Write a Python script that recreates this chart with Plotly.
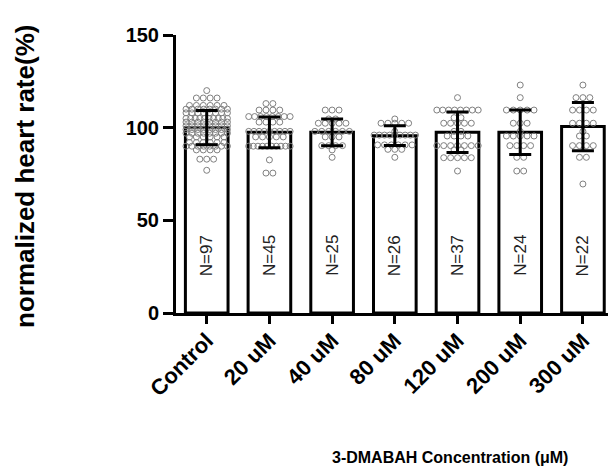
import plotly.graph_objects as go
import numpy as np

categories = ["Control", "20 uM", "40 uM", "80 uM", "120 uM", "200 uM", "300 uM"]
n_labels = ["N=97", "N=45", "N=25", "N=26", "N=37", "N=24", "N=22"]
means = [100.0, 97.5, 97.5, 95.7, 97.5, 97.5, 100.6]
sds = [9.2, 8.3, 7.2, 5.3, 10.9, 12.0, 13.0]

# individual points: (value, count) rows
pts_control = [(120, 1), (116, 4), (112, 6), (110, 8), (108, 8), (105, 10), (103, 8),
               (101, 8), (99, 8), (97, 8), (95, 6), (92, 6), (90, 8), (88, 4), (83, 3), (77, 1)]
pts_20 = [(113, 2), (109.5, 4), (106, 8), (103, 4), (98, 9), (95, 5), (90, 10), (82.6, 1), (75.5, 2)]
pts_40 = [(109.5, 3), (104.7, 2), (102.4, 5), (98, 6), (95, 3), (90.3, 4), (88, 1), (84, 1)]
pts_80 = [(104.7, 1), (102.4, 5), (98, 1), (96, 9), (90.7, 6), (88.3, 3), (84, 1)]
pts_120 = [(116.2, 1), (109.5, 8), (105.4, 2), (102.4, 5), (98, 2), (95.5, 4), (90.3, 7),
           (88, 2), (83.8, 5), (76.6, 1)]
pts_200 = [(123, 1), (116.2, 1), (109.5, 5), (102.4, 3), (98, 1), (95.5, 5), (90.3, 4),
           (84, 2), (76.6, 2)]
pts_300 = [(123, 1), (116.2, 3), (109.5, 4), (102.4, 4), (98, 1), (95.5, 2), (90.3, 4),
           (84, 2), (69.6, 1)]
groups = [pts_control, pts_20, pts_40, pts_80, pts_120, pts_200, pts_300]

fig = go.Figure()

fig.add_trace(go.Bar(
    x=list(range(len(categories))), y=means, width=0.68,
    marker=dict(color="white", line=dict(color="black", width=3)),
    showlegend=False, hoverinfo="skip",
))

xs, ys = [], []
for i, g in enumerate(groups):
    for val, cnt in g:
        step = 0.11 if cnt <= 1 else min(0.11, 0.66 / (cnt - 1))
        for k in range(cnt):
            xs.append(i + (k - (cnt - 1) / 2) * step)
            ys.append(val)

fig.add_trace(go.Scatter(
    x=xs, y=ys, mode="markers",
    marker=dict(symbol="circle-open", size=6, color="#808080", line=dict(width=1)),
    showlegend=False, hoverinfo="skip",
))

fig.add_trace(go.Scatter(
    x=list(range(len(categories))), y=means, mode="markers",
    marker=dict(size=0.1, color="rgba(0,0,0,0)"),
    error_y=dict(type="data", array=sds, visible=True, color="black", thickness=3, width=11),
    showlegend=False, hoverinfo="skip",
))

for i, t in enumerate(n_labels):
    fig.add_annotation(x=i, y=31, text=t, textangle=-90, showarrow=False,
                       font=dict(family="Liberation Sans, Arial", size=17, color="#222222"))

fig.add_annotation(xref="paper", yref="paper", x=(25 - 176) / 432, y=(313 - 177) / 278,
                   text="normalized heart rate(%)", textangle=-90, showarrow=False,
                   xanchor="center", yanchor="middle",
                   font=dict(family="Liberation Sans, Arial", size=26, color="black", weight="bold"))
fig.add_annotation(xref="paper", yref="paper", x=(450 - 176) / 432, y=(313 - 458) / 278,
                   text="3-DMABAH Concentration (μM)", showarrow=False,
                   xanchor="center", yanchor="middle",
                   font=dict(family="Liberation Sans, Arial", size=16, color="black", weight="bold"))

fig.update_layout(
    width=608, height=468,
    margin=dict(l=176, r=0, t=35, b=155),
    plot_bgcolor="white", paper_bgcolor="white",
    xaxis=dict(
        range=[-0.49, 6.4], tickmode="array", tickvals=list(range(len(categories))),
        ticktext=categories, tickangle=-45,
        showline=True, linecolor="black", linewidth=3,
        ticks="outside", ticklen=8, tickwidth=3, tickcolor="black",
        ticklabelstandoff=-5,
        showgrid=False, zeroline=False,
        tickfont=dict(family="Liberation Sans, Arial", size=22, color="black", weight="bold"),
    ),
    yaxis=dict(
        range=[0, 150], tickvals=[0, 50, 100, 150],
        showline=True, linecolor="black", linewidth=3,
        ticks="outside", ticklen=10, tickwidth=3, tickcolor="black",
        showgrid=False, zeroline=False,
        tickfont=dict(family="Liberation Sans, Arial", size=20, color="black", weight="bold"),
    ),
)

fig.write_html("out.html")
